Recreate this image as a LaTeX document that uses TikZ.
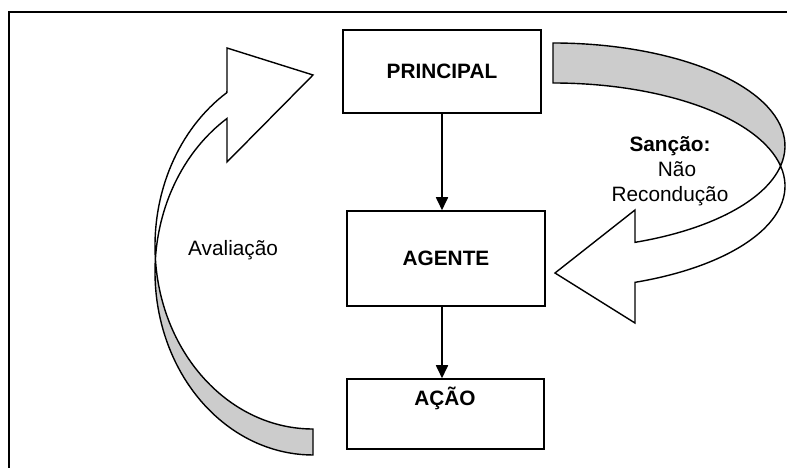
\documentclass[tikz,border=0pt]{standalone}
\usepackage{fontspec}
\setmainfont{Liberation Sans}
\usetikzlibrary{arrows.meta}
\begin{document}
\begin{tikzpicture}[x=1pt,y=1pt,
  txt/.style={font=\fontsize{20.8}{25}\selectfont, inner sep=0pt},
  btxt/.style={font=\fontsize{20.8}{25}\selectfont\bfseries, inner sep=0pt},
  box/.style={draw, line width=1.5pt, minimum width=198pt, inner sep=0pt,
              font=\fontsize{20.8}{25}\selectfont\bfseries},
  flow/.style={line width=1.7pt, -{Triangle[length=13pt,width=12pt]}},
  band/.style={draw, line width=1.4pt, line join=miter}]
\useasboundingbox (0,0) rectangle (798,468);

% outer frame (left and top edges)
\draw[line width=2.2pt] (9,0) -- (9,456) -- (787,456);

% boxes
\node[box, minimum height=83pt] (principal) at (442,396.5) {PRINCIPAL};
\node[box, minimum height=95pt] (agente) at (446,209.5) {AGENTE};
\node[box, minimum width=197pt, minimum height=70pt] (acao) at (445.5,54) {};
\node[btxt, anchor=base] (acaotxt) at (445,62) {AÇÃO};

% straight arrows
\draw[flow] (principal.south) -- (agente.north -| principal.south);
\draw[flow] (agente.south -| principal.south) -- (acao.north -| principal.south);

% left curved arrow (evaluation loop)
\coordinate (L1c) at (313,222);
\coordinate (L2c) at (313,196);
\filldraw[band, fill=black!20]
  ([shift={(270:158 and 183)}]L1c)
  arc[start angle=270, end angle=184.1, x radius=158, y radius=183]
  -- ([shift={(175.9:158 and 183)}]L2c)
  arc[start angle=175.9, end angle=270, x radius=158, y radius=183]
  -- cycle;
\filldraw[band, fill=white]
  ([shift={(184.1:158 and 183)}]L1c)
  arc[start angle=184.1, end angle=123, x radius=158, y radius=183]
  -- (227,420) -- (313,393) -- (227,306)
  -- ([shift={(123:158 and 183)}]L2c)
  arc[start angle=123, end angle=175.9, x radius=158, y radius=183]
  -- cycle;

% right curved arrow (sanction loop)
\coordinate (R1c) at (553,322);
\coordinate (R2c) at (553,282);
\filldraw[band, fill=black!20]
  ([shift={(90:232 and 103)}]R1c)
  arc[start angle=90, end angle=-11.2, x radius=232, y radius=103]
  -- ([shift={(11.2:232 and 103)}]R2c)
  arc[start angle=11.2, end angle=90, x radius=232, y radius=103]
  -- cycle;
\filldraw[band, fill=white]
  ([shift={(-11.2:232 and 103)}]R1c)
  arc[start angle=-11.2, end angle=-69.3, x radius=232, y radius=103]
  -- (635,258) -- (555,195) -- (635,145)
  -- ([shift={(-69.3:232 and 103)}]R2c)
  arc[start angle=-69.3, end angle=11.2, x radius=232, y radius=103]
  -- cycle;

% labels
\node[txt, anchor=base west] (aval) at (188,212) {Avaliação};
\node[btxt, anchor=base] (sancao) at (670,316) {Sanção:};
\node[txt, anchor=base] (nao) at (677,291.5) {Não};
\node[txt, anchor=base] (recond) at (670,266.5) {Recondução};
\end{tikzpicture}
\end{document}
